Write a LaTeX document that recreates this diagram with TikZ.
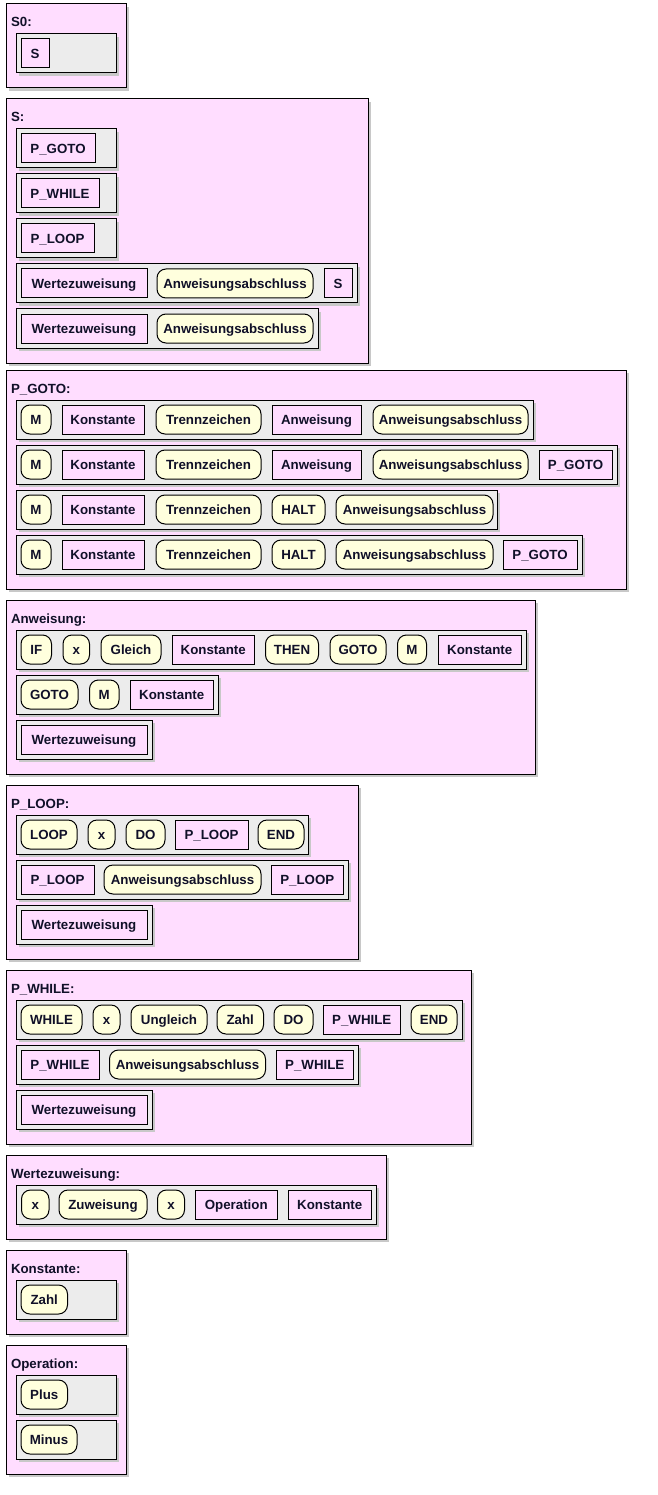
\documentclass[tikz,border=0pt]{standalone}
\usepackage{fontspec}
\setmainfont{Liberation Sans}
\usetikzlibrary{shadows}
\definecolor{pinkc}{RGB}{255,221,255}
\definecolor{rowc}{RGB}{236,236,236}
\definecolor{yelc}{RGB}{255,255,221}
\definecolor{shadc}{RGB}{200,200,200}
\definecolor{txtc}{RGB}{16,16,40}
\tikzset{
  every node/.style={inner sep=0pt, outer sep=0pt, font=\fontsize{13.3}{15}\selectfont\bfseries, text=txtc},
  shad/.style={drop shadow={shadow xshift=3pt, shadow yshift=-3pt, fill=shadc, opacity=1}},
  panelbox/.style={draw=black, line width=1pt, fill=pinkc, shad, anchor=north west},
  rowbox/.style={draw=black, line width=1pt, fill=rowc, shad, anchor=north west, minimum height=39pt},
  pnode/.style={draw=black, line width=1pt, fill=pinkc, anchor=north west, minimum height=29pt, text height=9.5pt, text depth=0pt},
  ynode/.style={draw=black, line width=1pt, fill=yelc, rounded corners=9pt, anchor=north west, minimum height=29pt, text height=9.5pt, text depth=0pt},
  lbl/.style={anchor=base west},
}
% panel: name, x1, y1, x2, y2, label
\newcommand\mkpanel[6]{%
  \pgfmathsetmacro\pw{#4-#2}\pgfmathsetmacro\ph{#5-#3}\pgfmathsetmacro\ly{#3+23}%
  \node[panelbox, minimum width=\pw pt, minimum height=\ph pt] (#1) at (#2,#3) {};
  \node[lbl] (#1-lbl) at (11,\ly) {#6};}
% row: name, y, xright
\newcommand\mkrow[3]{%
  \pgfmathsetmacro\rw{#3-16}%
  \node[rowbox, minimum width=\rw pt] (#1) at (16,#2) {};}
% pink node: name, x1, x2, rowy, text
\newcommand\mkp[5]{%
  \pgfmathsetmacro\nw{#3-#2}\pgfmathsetmacro\ny{#4+5}%
  \node[pnode, minimum width=\nw pt] (#1) at (#2,\ny) {#5};}
% yellow rounded node: name, x1, x2, rowy, text
\newcommand\mky[5]{%
  \pgfmathsetmacro\nw{#3-#2}\pgfmathsetmacro\ny{#4+5}%
  \node[ynode, minimum width=\nw pt] (#1) at (#2,\ny) {#5};}

\begin{document}
\begin{tikzpicture}[x=1pt, y=-1pt]
\fill[white] (0,0) rectangle (657,1495);
\useasboundingbox (0,0) rectangle (657,1495);

% S0
\mkpanel{pS0}{6}{4}{126}{88}{S0:}
\mkrow{s0r1}{34}{116}
\mkp{s0r1a}{21}{49}{34}{S}

% S
\mkpanel{pS}{6}{99}{368}{363}{S:}
\mkrow{sr1}{129}{116} \mkp{sr1a}{21}{95}{129}{P\_GOTO}
\mkrow{sr2}{174}{116} \mkp{sr2a}{21}{99}{174}{P\_WHILE}
\mkrow{sr3}{219}{116} \mkp{sr3a}{21}{94}{219}{P\_LOOP}
\mkrow{sr4}{264}{357} \mkp{sr4a}{21}{147}{264}{Wertezuweisung} \mky{sr4b}{157}{313}{264}{Anweisungsabschluss} \mkp{sr4c}{324}{352}{264}{S}
\mkrow{sr5}{309}{318} \mkp{sr5a}{21}{147}{309}{Wertezuweisung} \mky{sr5b}{157}{313}{309}{Anweisungsabschluss}

% P_GOTO
\mkpanel{pGoto}{6}{370}{626}{589}{P\_GOTO:}
\mkrow{g1}{400}{533}
\mky{g1a}{21}{51}{400}{M} \mkp{g1b}{62}{144}{400}{Konstante} \mky{g1c}{156}{261}{400}{Trennzeichen} \mkp{g1d}{272}{361}{400}{Anweisung} \mky{g1e}{373}{528}{400}{Anweisungsabschluss}
\mkrow{g2}{445}{617}
\mky{g2a}{21}{51}{445}{M} \mkp{g2b}{62}{144}{445}{Konstante} \mky{g2c}{156}{261}{445}{Trennzeichen} \mkp{g2d}{272}{361}{445}{Anweisung} \mky{g2e}{373}{528}{445}{Anweisungsabschluss} \mkp{g2f}{539}{612}{445}{P\_GOTO}
\mkrow{g3}{490}{497}
\mky{g3a}{21}{51}{490}{M} \mkp{g3b}{62}{144}{490}{Konstante} \mky{g3c}{156}{261}{490}{Trennzeichen} \mky{g3d}{272}{325}{490}{HALT} \mky{g3e}{336}{493}{490}{Anweisungsabschluss}
\mkrow{g4}{535}{582}
\mky{g4a}{21}{51}{535}{M} \mkp{g4b}{62}{144}{535}{Konstante} \mky{g4c}{156}{261}{535}{Trennzeichen} \mky{g4d}{272}{325}{535}{HALT} \mky{g4e}{336}{493}{535}{Anweisungsabschluss} \mkp{g4f}{503}{577}{535}{P\_GOTO}

% Anweisung
\mkpanel{pAnw}{6}{600}{535}{774}{Anweisung:}
\mkrow{a1}{630}{526}
\mky{a1a}{21}{51.5}{630}{IF} \mky{a1b}{63}{89.5}{630}{x} \mky{a1c}{101}{161}{630}{Gleich} \mkp{a1d}{172}{254.5}{630}{Konstante} \mky{a1e}{265.5}{318.5}{630}{THEN} \mky{a1f}{330}{386}{630}{GOTO} \mky{a1g}{397.5}{426.5}{630}{M} \mkp{a1h}{438.5}{521}{630}{Konstante}
\mkrow{a2}{675}{218}
\mky{a2a}{21}{78}{675}{GOTO} \mky{a2b}{89.5}{119}{675}{M} \mkp{a2c}{130.5}{213}{675}{Konstante}
\mkrow{a3}{720}{152}
\mkp{a3a}{21}{147}{720}{Wertezuweisung}

% P_LOOP
\mkpanel{pLoop}{6}{785}{358}{959}{P\_LOOP:}
\mkrow{l1}{815}{308}
\mky{l1a}{21}{77}{815}{LOOP} \mky{l1b}{88}{115}{815}{x} \mky{l1c}{126}{165}{815}{DO} \mkp{l1d}{175}{248}{815}{P\_LOOP} \mky{l1e}{258}{304}{815}{END}
\mkrow{l2}{860}{348}
\mkp{l2a}{21}{94}{860}{P\_LOOP} \mky{l2b}{104}{261}{860}{Anweisungsabschluss} \mkp{l2c}{271}{343.5}{860}{P\_LOOP}
\mkrow{l3}{905}{152}
\mkp{l3a}{21}{147}{905}{Wertezuweisung}

% P_WHILE
\mkpanel{pWhile}{6}{970}{471}{1144}{P\_WHILE:}
\mkrow{w1}{1000}{462}
\mky{w1a}{21}{82}{1000}{WHILE} \mky{w1b}{93}{120}{1000}{x} \mky{w1c}{131}{207}{1000}{Ungleich} \mky{w1d}{217}{263.5}{1000}{Zahl} \mky{w1e}{274}{313}{1000}{DO} \mkp{w1f}{323}{400.5}{1000}{P\_WHILE} \mky{w1g}{411}{457}{1000}{END}
\mkrow{w2}{1045}{358}
\mkp{w2a}{21}{99}{1045}{P\_WHILE} \mky{w2b}{109.5}{265.5}{1045}{Anweisungsabschluss} \mkp{w2c}{276}{353.5}{1045}{P\_WHILE}
\mkrow{w3}{1090}{152}
\mkp{w3a}{21}{147}{1090}{Wertezuweisung}

% Wertezuweisung
\mkpanel{pWert}{6}{1155}{386}{1239}{Wertezuweisung:}
\mkrow{z1}{1185}{376}
\mky{z1a}{21.5}{49}{1185}{x} \mky{z1b}{59}{147}{1185}{Zuweisung} \mky{z1c}{157.5}{184.5}{1185}{x} \mkp{z1d}{195}{277.5}{1185}{Operation} \mkp{z1e}{288.5}{371}{1185}{Konstante}

% Konstante
\mkpanel{pKon}{6}{1250}{126}{1334}{Konstante:}
\mkrow{k1}{1280}{116}
\mky{k1a}{21}{67.5}{1280}{Zahl}

% Operation
\mkpanel{pOp}{6}{1345}{126}{1474}{Operation:}
\mkrow{o1}{1375}{116}
\mky{o1a}{21}{67.5}{1375}{Plus}
\mkrow{o2}{1420}{116}
\mky{o2a}{21}{77}{1420}{Minus}
\end{tikzpicture}
\end{document}
